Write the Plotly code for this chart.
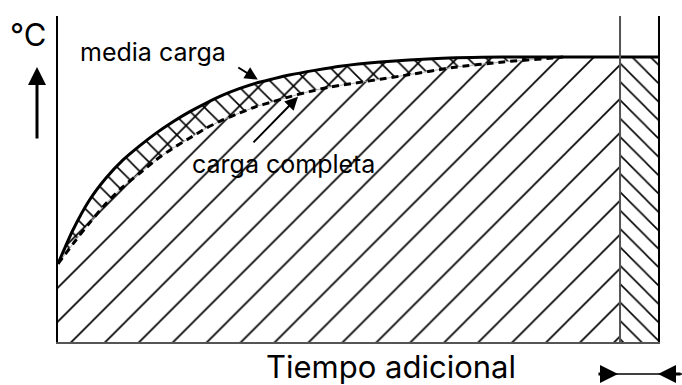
import plotly.graph_objects as go

# curve readings (time in arbitrary units 0-100, temperature 0-100)
media_x = [0, 2.45, 5.2, 8, 10.8, 13.55, 16.3, 19.1, 21.9, 24.7, 27.45, 30.2, 33, 35.8, 38.55, 43,
           47, 53.7, 63.2, 74.2, 84.2, 93.67, 100]
media_y = [24, 34.2, 43.4, 50.3, 55.8, 60.1, 64, 67.5, 70.6, 73.3, 75.7, 77.7, 79.4, 80.7, 81.9, 83.4,
           84.6, 85.9, 87.0, 87.4, 87.4, 87.4, 87.4]

completa_x = [0, 3, 5.2, 8, 10.8, 13.55, 16.3, 19.1, 21.9, 24.7, 27.45, 30.2, 33, 35.8, 38.55, 41.9,
              45.3, 53.7, 57.5, 65.8, 74.2, 82.5, 84.2]
completa_y = [24, 31.3, 36.4, 42.5, 47.6, 51.7, 55.8, 59.4, 62.5, 65.6, 68.1, 70.2, 72.2, 73.7, 75.2, 76.8,
              78.2, 80.6, 81.7, 84.2, 85.9, 87.1, 87.4]

extra_start = 93.67  # where the additional time begins
completa_end = 84.2

FONT = 'Inter'
AXIS_COL = '#555555'
SPLINE = dict(shape='spline', smoothing=0.6)


def hatch(shape, size, solidity):
    return dict(shape=shape, size=size, solidity=solidity, fgcolor='black',
                fgopacity=1, bgcolor='rgba(0,0,0,0)')


fig = go.Figure()

# "/" hatch under the half-load curve, up to the additional time
n_main = media_x.index(extra_start) + 1
fig.add_trace(go.Scatter(x=media_x[:n_main], y=media_y[:n_main], mode='lines',
                         line=dict(width=0, **SPLINE), fill='tozeroy', fillcolor='rgba(0,0,0,0)',
                         fillpattern=hatch('/', 24, 0.07)))

# "\" hatch in the additional time
fig.add_trace(go.Scatter(x=media_x[n_main - 1:], y=media_y[n_main - 1:], mode='lines',
                         line=dict(width=0), fill='tozeroy', fillcolor='rgba(0,0,0,0)',
                         fillpattern=hatch('\\', 13, 0.12)))

# full load curve base (thin grey line) and cross hatch between both curves
fig.add_trace(go.Scatter(x=completa_x, y=completa_y, mode='lines',
                         line=dict(width=1, color='#aaaaaa', **SPLINE)))
n_between = media_x.index(completa_end) + 1
fig.add_trace(go.Scatter(x=media_x[:n_between], y=media_y[:n_between], mode='lines',
                         line=dict(width=0, **SPLINE), fill='tonexty', fillcolor='rgba(0,0,0,0)',
                         fillpattern=hatch('\\', 13, 0.12)))

# the two curves
fig.add_trace(go.Scatter(x=completa_x, y=completa_y, mode='lines',
                         line=dict(width=3, color='black', dash='7px,5px', **SPLINE)))
fig.add_trace(go.Scatter(x=media_x, y=media_y, mode='lines',
                         line=dict(width=3, color='black', **SPLINE)))

# separator for the additional time
fig.add_shape(type='line', x0=extra_start, x1=extra_start, y0=0, y1=100,
              line=dict(color=AXIS_COL, width=2))

txt = dict(showarrow=False, xref='paper', yref='paper', xanchor='center', yanchor='middle')
arr = dict(text='', showarrow=True, arrowhead=2, arrowcolor='black')

fig.add_annotation(text='°C', x=-0.05, y=0.942, font=dict(family=FONT, size=31, color='black'), **txt)
fig.add_annotation(xref='paper', yref='paper', x=-0.035, y=0.8436, ax=0, ay=73,
                   arrowsize=1.2, arrowwidth=3, **arr)

fig.add_annotation(text='media carga', x=0.158, y=0.89, font=dict(family=FONT, size=25, color='black'), **txt)
fig.add_annotation(x=33.3, y=80.5, ax=-21, ay=-13, arrowsize=1.3, arrowwidth=2, **arr)

fig.add_annotation(text='carga completa', x=0.375, y=0.546, font=dict(family=FONT, size=25, color='black'), **txt)
fig.add_annotation(x=40, y=75.2, ax=-46, ay=47, arrowsize=1.3, arrowwidth=2, **arr)

fig.add_annotation(text='Tiempo adicional', x=0.555, y=-0.075, font=dict(family=FONT, size=31, color='black'), **txt)

# additional time span marker
fig.add_shape(type='line', xref='paper', yref='paper', x0=0.93, x1=1.04,
              y0=-0.0982, y1=-0.0982, line=dict(color='black', width=1.5))
fig.add_annotation(xref='paper', yref='paper', x=0.9333, y=-0.0982, ax=-21, ay=0,
                   arrowsize=1.2, arrowwidth=3, **arr)
fig.add_annotation(xref='paper', yref='paper', x=1.0, y=-0.0982, ax=24, ay=0,
                   arrowsize=1.2, arrowwidth=3, **arr)

fig.update_layout(width=682, height=385, margin=dict(l=58, r=24, t=16, b=43),
                  plot_bgcolor='white', paper_bgcolor='white', showlegend=False,
                  xaxis=dict(range=[0, 100], showgrid=False, zeroline=False, showticklabels=False,
                             ticks='', showline=True, linecolor=AXIS_COL, linewidth=2),
                  yaxis=dict(range=[0, 100], showgrid=False, zeroline=False, showticklabels=False,
                             ticks='', showline=True, linecolor='black', linewidth=1.5,
                             mirror=True))

fig.write_html('out.html', config={'displayModeBar': False},
               post_script="document.body.style.margin='0';")
